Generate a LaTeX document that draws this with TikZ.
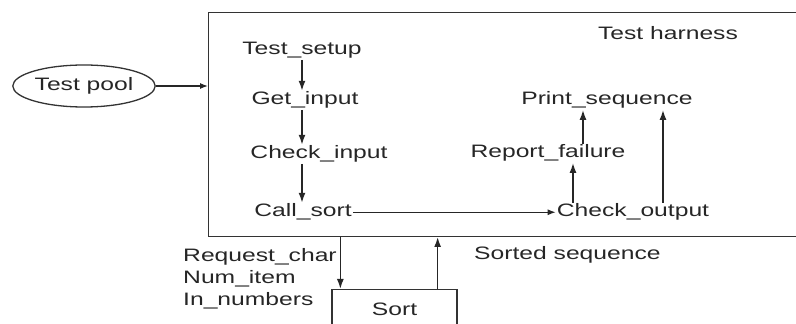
\documentclass[tikz,border=0pt]{standalone}
\usepackage{fontspec}
\setmainfont[FakeStretch=1.37]{Liberation Sans}
\usetikzlibrary{arrows.meta,positioning,shapes.geometric}

\begin{document}
\begin{tikzpicture}[x=1pt,y=1pt,>={Latex[length=10pt,width=7pt]},
  lbl/.style={inner sep=1pt,font=\fontsize{18}{22}\selectfont,text=black!85},
  flow/.style={->,line width=1.5pt,black!85},
  frame/.style={draw=black!80,line width=1.3pt}]
\useasboundingbox (0,0) rectangle (796,324);
% outer frame and the test pool
\node[frame,minimum width=602pt,minimum height=224pt,anchor=south west,inner sep=0pt] (harness) at (208,87) {};
\node[lbl,anchor=base] at (668,284) {Test harness};
\node[lbl,frame,ellipse,minimum width=142pt,minimum height=42pt] (pool) at (84,238) {Test pool};
\draw[flow,line width=1.2pt,>={Latex[length=8pt,width=6pt]}] (pool.east)--(pool.east -| harness.west);
% steps inside the harness
\node[lbl,anchor=base] (setup) at (302,269) {Test\_setup};
\node[lbl,anchor=base] (getin) at (305,219) {Get\_input};
\node[lbl,anchor=base] (check) at (319,165) {Check\_input};
\node[lbl,anchor=base] (call) at (303,107) {Call\_sort};
\node[lbl,anchor=base] (checkout) at (633,107) {Check\_output};
\node[lbl,anchor=base] (fail) at (548,166) {Report\_failure};
\node[lbl,anchor=base] (printseq) at (607,219) {Print\_sequence};
\draw[flow] (setup.south)--(setup.south |- getin.north);
\draw[flow] (getin.south -| setup.south)--(check.north -| setup.south);
\draw[flow] (check.south -| setup.south)--(call.north -| setup.south);
\draw[flow,line width=1.2pt,>={Latex[length=8pt,width=6pt]}] (call.east)--(call.east -| checkout.west);
\draw[flow] ([xshift=-60pt]checkout.north)--([xshift=-60pt]checkout.north |- fail.south);
\draw[flow] ([xshift=35pt]fail.north)--([xshift=35pt]fail.north |- printseq.south);
\draw[flow] ([xshift=30pt]checkout.north)--([xshift=30pt]checkout.north |- printseq.south);
% the sort module below
\node[lbl,frame,minimum width=125pt,minimum height=39pt,anchor=north] (sort) at (394.5,35) {Sort};
\draw[flow] ([xshift=9pt]sort.north west |- harness.south)--([xshift=9pt]sort.north west);
\draw[flow] ([xshift=-20pt]sort.north east)--([xshift=-20pt]sort.north east |- harness.south);
\node[lbl,anchor=base west] (req) at (182,62) {Request\_char};
\node[lbl,anchor=base west] (num) at (182,40) {Num\_item};
\node[lbl,anchor=base west] (innum) at (182,18) {In\_numbers};
\node[lbl,anchor=base west] (sorted) at (473,64) {Sorted sequence};
\end{tikzpicture}
\end{document}
